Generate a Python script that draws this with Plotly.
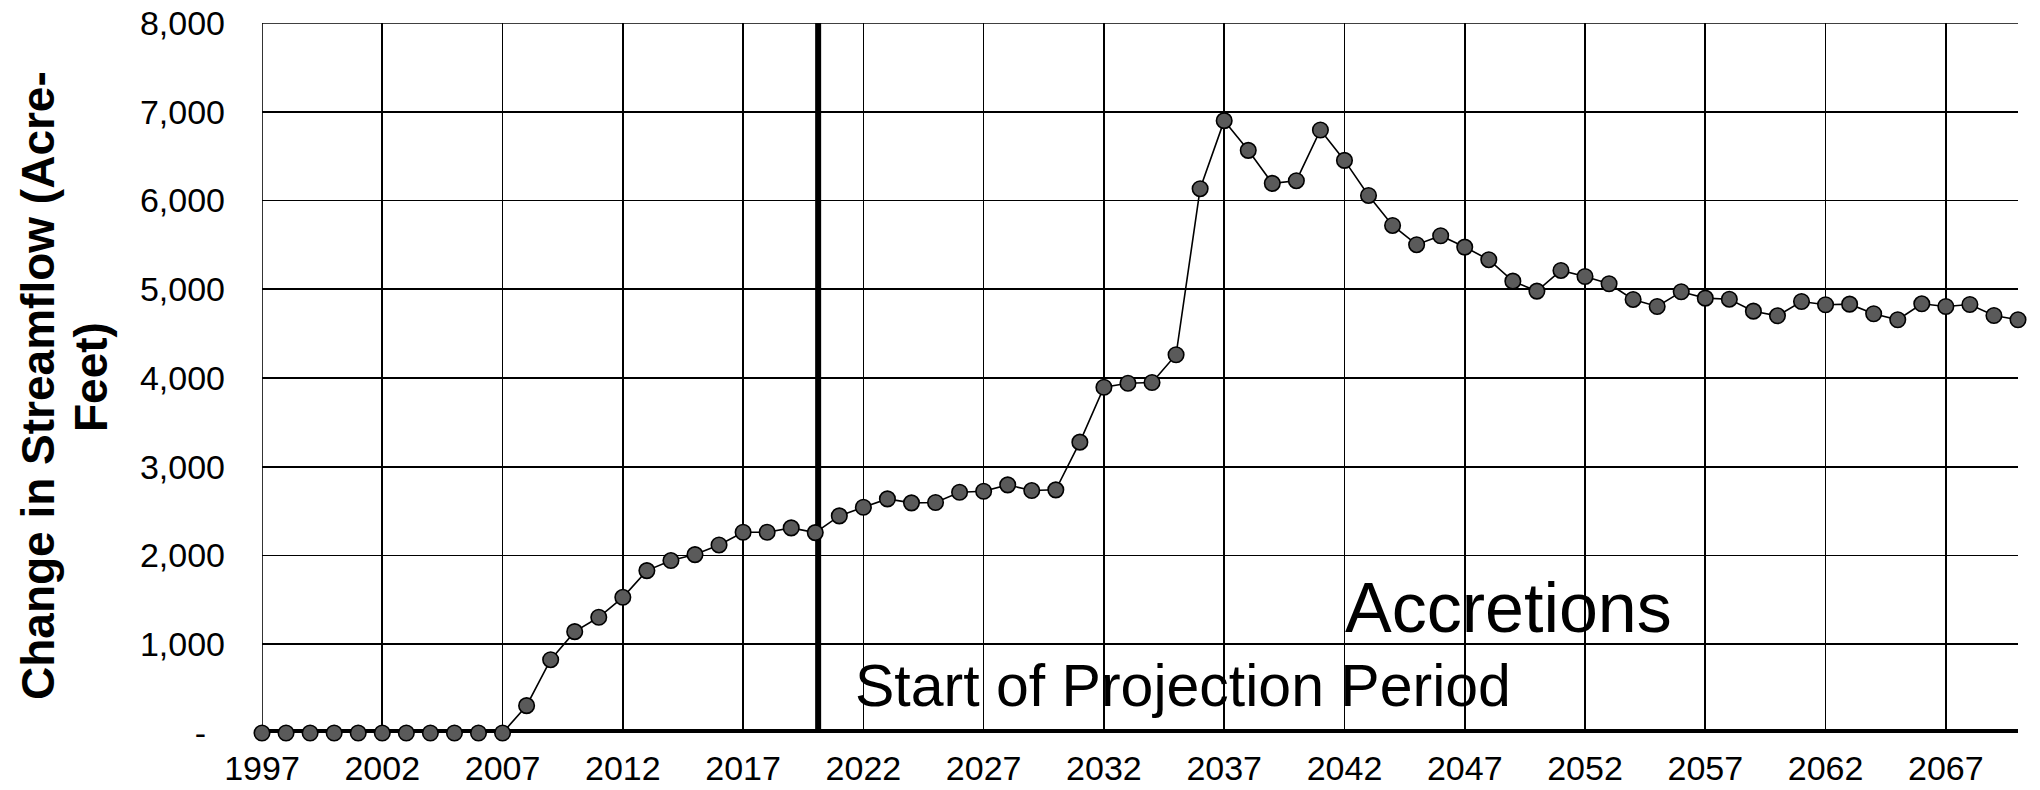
import plotly.graph_objects as go

years = list(range(1997, 2071))
streamflow = [
    0, 0, 0, 0, 0, 0, 0, 0, 0, 0, 0,          # 1997-2007
    308, 826, 1142, 1304, 1529, 1830, 1943, 2010,  # 2008-2015
    2119, 2262, 2262, 2311, 2258, 2446, 2544, 2638,  # 2016-2023
    2593, 2597, 2713, 2724, 2796, 2732, 2740, 3277,  # 2024-2031
    3896, 3941, 3949, 4262, 6133, 6900, 6565, 6193,  # 2032-2039
    6223, 6794, 6452, 6057, 5719, 5502, 5603, 5475,  # 2040-2047
    5333, 5091, 4979, 5212, 5144, 5062, 4885, 4806,  # 2048-2055
    4972, 4900, 4888, 4753, 4701, 4862, 4825, 4832,  # 2056-2063
    4724, 4656, 4836, 4806, 4828, 4704, 4656,        # 2064-2070
]

x_tick_vals = list(range(1997, 2068, 5))
y_tick_vals = [0, 1000, 2000, 3000, 4000, 5000, 6000, 7000, 8000]
y_tick_text = ["-\u00a0\u00a0", "1,000", "2,000", "3,000", "4,000", "5,000", "6,000", "7,000", "8,000"]

projection_start = 2020
y_title_line1 = "Change in Streamflow (Acre-"
y_title_line2 = "Feet)"

FONT = "Liberation Sans, Arial, sans-serif"

fig = go.Figure()
fig.add_trace(go.Scatter(
    x=years, y=streamflow, mode="lines+markers",
    line=dict(color="black", width=1.6),
    marker=dict(size=15.5, color="#5a5a5a", line=dict(color="black", width=1.6)),
    cliponaxis=False, showlegend=False, hoverinfo="skip",
))

shapes = [
    dict(type="line", xref="x", yref="y", x0=1997, x1=2070, y0=0, y1=0,
         line=dict(color="black", width=8), layer="between"),
    dict(type="line", xref="x", yref="paper", x0=projection_start + 0.12, x1=projection_start + 0.12, y0=0, y1=1,
         line=dict(color="black", width=6), layer="between"),
    dict(type="line", xref="x", yref="y", x0=1997, x1=2070, y0=8000, y1=8000,
         line=dict(color="black", width=1.6), layer="between"),
    dict(type="line", xref="x", yref="paper", x0=1997, x1=1997, y0=0, y1=1,
         line=dict(color="black", width=1.6), layer="between"),
]

L, R, T, B = 262, 22, 23, 57
W, H = 2040, 790
pw = W - L - R
ph = H - T - B

def paper_x(px):
    return (px - L) / pw

def paper_y(py):
    return (H - B - py) / ph

annotations = [
    dict(text="Accretions", x=2042.0, y=1411, xref="x", yref="y", xanchor="left", yanchor="middle",
         showarrow=False, borderpad=0, font=dict(family=FONT, size=70, color="black")),
    dict(text="Start of Projection Period", x=2021.6, y=534, xref="x", yref="y", xanchor="left",
         yanchor="middle", showarrow=False, borderpad=0, font=dict(family=FONT, size=59, color="black")),
    dict(text="<b>" + y_title_line1 + "</b>", x=paper_x(38), y=paper_y(386), xref="paper", yref="paper",
         xanchor="center", yanchor="middle", textangle=-90, showarrow=False, borderpad=0,
         font=dict(family=FONT, size=46, color="black")),
    dict(text="<b>" + y_title_line2 + "</b>", x=paper_x(91), y=paper_y(377), xref="paper", yref="paper",
         xanchor="center", yanchor="middle", textangle=-90, showarrow=False, borderpad=0,
         font=dict(family=FONT, size=46, color="black")),
]

fig.update_layout(
    width=W, height=H, autosize=False,
    margin=dict(l=L, r=R, t=T, b=B, pad=0, autoexpand=False),
    paper_bgcolor="white", plot_bgcolor="white",
    font=dict(family=FONT, color="black"),
    shapes=shapes, annotations=annotations,
    xaxis=dict(range=[1997, 2070], tickmode="array", tickvals=x_tick_vals,
               showgrid=True, gridcolor="black", gridwidth=1.6, automargin=False,
               zeroline=False, showline=False, ticks="",
               tickfont=dict(family=FONT, size=34, color="black"), ticklabelstandoff=12),
    yaxis=dict(range=[0, 8000], tickmode="array", tickvals=y_tick_vals, ticktext=y_tick_text,
               showgrid=True, gridcolor="black", gridwidth=1.6, automargin=False,
               zeroline=False, showline=False, ticks="",
               tickfont=dict(family=FONT, size=34, color="black"), ticklabelstandoff=36),
)

fig.write_html("out.html", config={"displayModeBar": False, "staticPlot": True},
               post_script="document.body.style.margin='0';document.body.style.padding='0';")
